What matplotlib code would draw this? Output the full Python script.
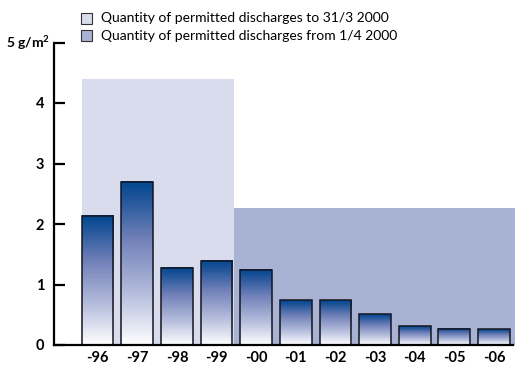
import numpy as np
import matplotlib
matplotlib.use("Agg")
import matplotlib.pyplot as plt
from matplotlib.patches import Rectangle
from matplotlib.colors import LinearSegmentedColormap

# Annual discharges (g/m2) and permitted levels
years = ["-96", "-97", "-98", "-99", "-00", "-01", "-02", "-03", "-04", "-05", "-06"]
discharges = [2.14, 2.70, 1.28, 1.39, 1.245, 0.74, 0.74, 0.505, 0.31, 0.27, 0.26]
permit_before = 4.4    # to 31/3 2000
permit_after = 2.27    # from 1/4 2000
legend_labels = ["Quantity of permitted discharges to 31/3 2000",
                 "Quantity of permitted discharges from 1/4 2000"]
y_ticks = [0, 1, 2, 3, 4, 5]

light_c = "#d8dcec"
dark_c = "#a8b2d2"

W, H = 517, 365
fig = plt.figure(figsize=(W / 100, H / 100), dpi=100)

def px(x, y):
    return x / W, 1 - y / H

l, t = px(54, 42.5)
r, b = px(515, 345)
ax = fig.add_axes([l, b, r - l, t - b])

x = np.arange(len(years))
bw = 0.8

# Permit level backgrounds
split = 3.45
ax.add_patch(Rectangle((-0.4, 0), split + 0.4, permit_before, facecolor=light_c,
                       edgecolor="none", zorder=0))
ax.add_patch(Rectangle((split, 0), 10.53 - split, permit_after, facecolor=dark_c,
                       edgecolor="none", zorder=0))

# Gradient-filled bars
cmap = LinearSegmentedColormap.from_list(
    "bar", [(0, "#ffffff"), (0.3, "#b8c0de"), (0.65, "#7080b8"), (0.9, "#1f5499"), (1, "#004890")])
grad = np.linspace(0, 1, 256).reshape(-1, 1)
for xi, h in zip(x, discharges):
    ax.imshow(grad, cmap=cmap, origin="lower", aspect="auto",
              extent=[xi - bw / 2, xi + bw / 2, 0, h], zorder=2, interpolation="bilinear")
    ax.add_patch(Rectangle((xi - bw / 2, 0), bw, h, facecolor="none",
                           edgecolor="#15151f", linewidth=1.1, zorder=3))
ax.set_xlim(-1.1, 10.53)
ax.set_ylim(0, 5)

for s in ["top", "right"]:
    ax.spines[s].set_visible(False)
ax.spines["left"].set_linewidth(1.6)
ax.spines["bottom"].set_linewidth(1.6)
ax.spines["bottom"].set_bounds(-1.1, 10.48)
ax.spines["bottom"].set_zorder(4)

ax.set_xticks(x)
ax.set_xticklabels(years, fontfamily="Lato", fontweight="bold", fontsize=10.5)
ax.tick_params(axis="x", length=0, pad=4)
ax.set_yticks(y_ticks)
ax.set_yticklabels(["0", "1", "2", "3", "4", ""], fontfamily="Lato",
                   fontweight="bold", fontsize=10.5)
ax.tick_params(axis="y", direction="in", length=8, width=1.6, pad=7)
ax.text(-1.2, 5, "5 g/m$^{\\mathregular{2}}$", ha="right", va="center",
        fontfamily="Lato", fontweight="bold", fontsize=10)

# Legend
for i, (lab, c) in enumerate(zip(legend_labels, [light_c, dark_c])):
    y0 = 13 + i * 17
    lx, ly = px(81, y0 + 11)
    fig.add_artist(Rectangle((lx, ly), 11 / W, 11 / H, facecolor=c,
                             edgecolor="#333333", linewidth=0.8,
                             transform=fig.transFigure))
    tx, ty = px(101, y0 + 5.5)
    fig.text(tx, ty, lab, ha="left", va="center", fontfamily="Lato", fontsize=10)

fig.savefig("out.png", dpi=100)
